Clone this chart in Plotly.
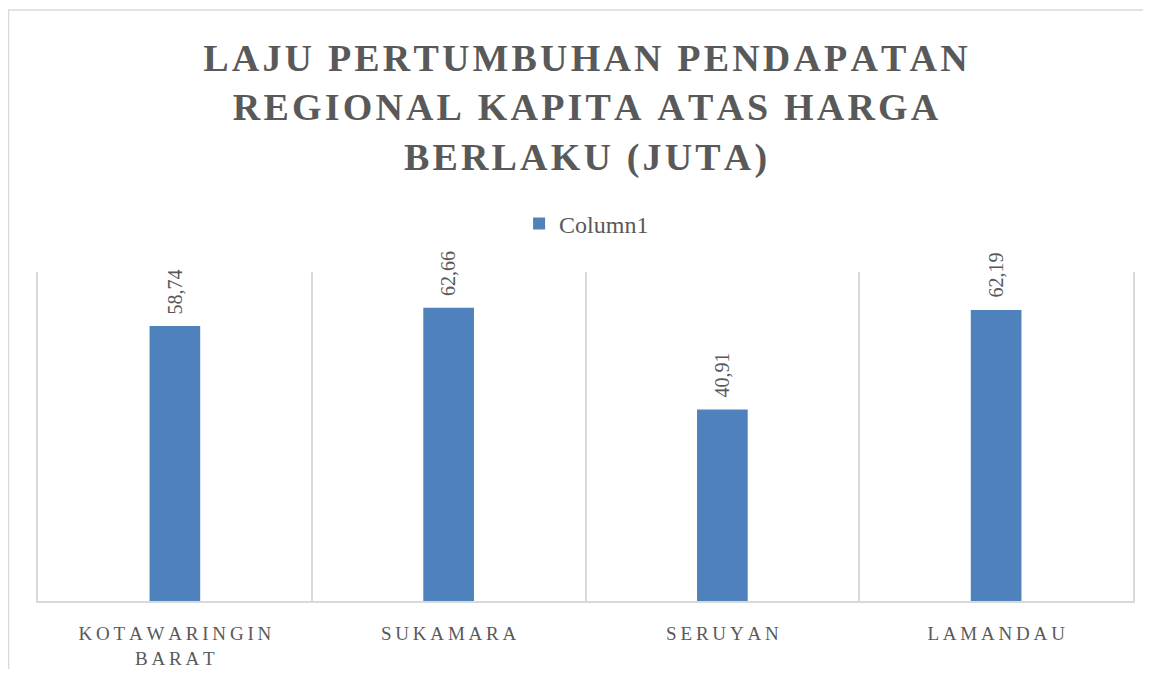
import plotly.graph_objects as go

categories = ["KOTAWARINGIN BARAT", "SUKAMARA", "SERUYAN", "LAMANDAU"]
values = [58.74, 62.66, 40.91, 62.19]
value_labels = ["58,74", "62,66", "40,91", "62,19"]
title_lines = ["LAJU PERTUMBUHAN PENDAPATAN", "REGIONAL KAPITA ATAS HARGA", "BERLAKU (JUTA)"]

GREY = "#595959"
LINE = "#d9d9d9"
BLUE = "#4f81bd"
FONT = "Liberation Serif"

# page body keeps its 8px margin, so the figure is that much smaller than the window
W, H = 1135, 661
L, R, T, B = 30, 10, 264, 68
PW, PH = W - L - R, H - T - B


def spaced(text, gap="\u200a"):
    # no letter-spacing in plotly, so pad the glyphs with narrow spaces
    return gap.join(text)


def spaced_label(text):
    return "<br>".join(spaced(w, "\u2009") for w in text.split(" ")) if text == "KOTAWARINGIN BARAT" \
        else spaced(text, "\u2009")


tick_text = [spaced_label(c) for c in categories]

fig = go.Figure()
fig.add_trace(go.Bar(
    x=categories, y=values, name="Column1",
    marker=dict(color=BLUE, line=dict(width=0)),
))

for cat, val, lab in zip(categories, values, value_labels):
    fig.add_annotation(
        x=cat, y=val, text=lab, textangle=-90, showarrow=False,
        xanchor="center", yanchor="bottom", yshift=10,
        font=dict(family=FONT, size=20, color=GREY),
    )

fig.update_layout(
    width=W, height=H,
    paper_bgcolor="white", plot_bgcolor="white",
    margin=dict(l=L, r=R, t=T, b=B, autoexpand=False),
    bargap=0.815,
    font=dict(family=FONT, color=GREY),
    title=dict(
        text="<br>".join(spaced(t) for t in title_lines),
        font=dict(family=FONT, size=38, color=GREY, weight="bold"),
        x=0.5, xref="paper", xanchor="center",
        y=1 - 63 / H, yref="container", yanchor="top",
    ),
    showlegend=True,
    legend=dict(
        orientation="h", x=0.501, xanchor="center", y=(593 - 216) / PH, yanchor="middle",
        font=dict(family=FONT, size=24, color=GREY),
        itemwidth=30,
    ),
)

fig.update_xaxes(
    tickmode="array", tickvals=categories, ticktext=tick_text,
    tickson="boundaries", showgrid=True, gridcolor=LINE, gridwidth=1.5,
    showline=True, linecolor=LINE, linewidth=2, ticks="",
    tickfont=dict(family=FONT, size=19, color=GREY),
    ticklabelstandoff=14, automargin=False,
)
fig.update_yaxes(
    range=[0, 70.3], showgrid=False, zeroline=False, showticklabels=False,
    showline=True, mirror=True, linecolor=LINE, linewidth=1.5, automargin=False,
)

# outer chart frame, running off the right and bottom of the picture
fig.add_shape(
    type="rect", xref="paper", yref="paper",
    x0=(0.5 - L) / PW, x1=(W + 10 - L) / PW,
    y0=(T + PH - H - 20) / PH, y1=(T + PH - 2) / PH,
    line=dict(color=LINE, width=1.5), layer="below",
)

fig.write_html("out.html")
